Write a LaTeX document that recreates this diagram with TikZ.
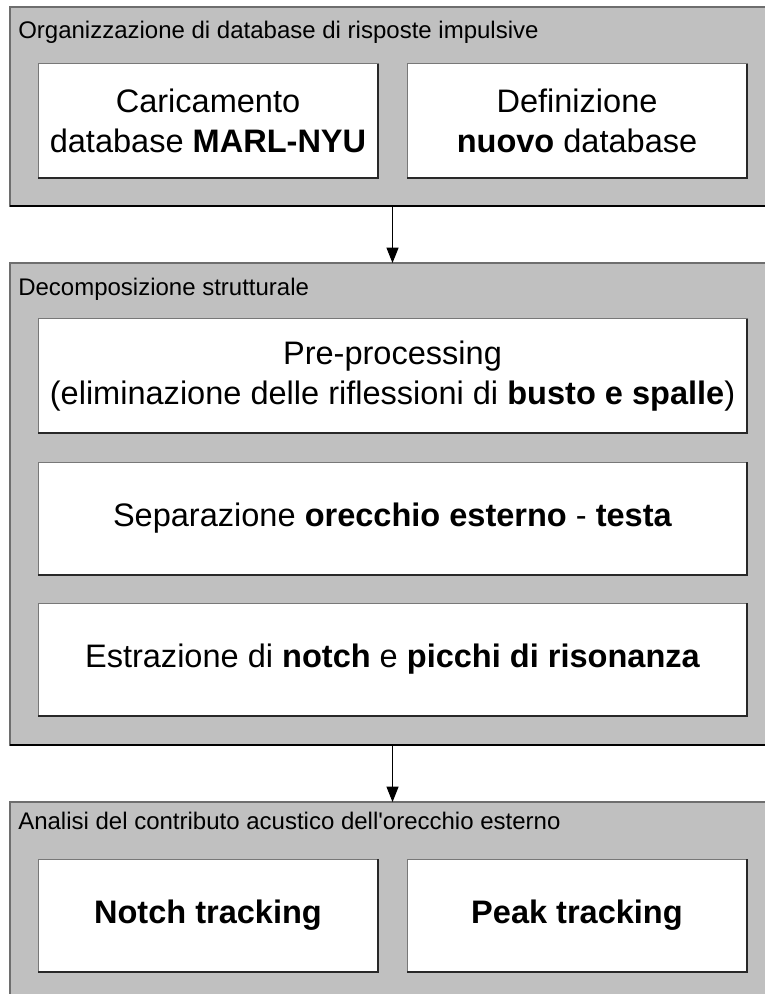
\documentclass[tikz,border=0pt]{standalone}
\usepackage{fontspec}
\setmainfont{Liberation Sans}[Ligatures=TeXOff]
\usetikzlibrary{arrows.meta}
\definecolor{panelgray}{RGB}{192,192,192}
\definecolor{paneledge}{RGB}{110,110,110}
\definecolor{boxedge}{RGB}{120,120,120}
\definecolor{shadeedge}{RGB}{40,40,40}

\begin{document}
\begin{tikzpicture}[x=0.75pt,y=-0.75pt,
  panel/.style={draw=paneledge, fill=panelgray, line width=1.1pt, anchor=north west,
    inner sep=0pt, outer sep=0pt, minimum width={770*0.75pt}},
  stepbox/.style={draw=boxedge, fill=white, line width=0.75pt, inner sep=0pt, outer sep=0pt,
    align=center, font=\fontsize{24.4}{30}\selectfont},
  paneltitle/.style={anchor=base west, inner sep=0pt, font=\fontsize{18}{21}\selectfont},
  panelshade/.style={draw=black, line width=1.1pt},
  boxshade/.style={draw=shadeedge, line width=0.9pt},
  flow/.style={-{Triangle[width=9pt,length=11.5pt]}, line width=0.75pt, black}]

\useasboundingbox (0,0) rectangle (764,994);

% three panels (they run past the right and bottom edges)
\node[panel, minimum height={199*0.75pt}] (g1) at (10,7) {};
\node[panel, minimum height={482*0.75pt}] (g2) at (10,263) {};
\node[panel, minimum height={220*0.75pt}] (g3) at (10,802) {};

% panel titles
\node[paneltitle] (t1) at (18,39) {Organizzazione di database di risposte impulsive};
\node[paneltitle] (t2) at (18,296) {Decomposizione strutturale};
\node[paneltitle] (t3) at (18,829) {Analisi del contributo acustico dell'orecchio esterno};

% first panel
\node[stepbox, minimum width={340*0.75pt}, minimum height={114*0.75pt}] (a) at (208,121)
  {Caricamento\\database \textbf{MARL-NYU}};
\node[stepbox, minimum width={340*0.75pt}, minimum height={114*0.75pt}] (b) at (577,121)
  {Definizione\\\textbf{nuovo} database};

% second panel
\node[stepbox, minimum width={709*0.75pt}, minimum height={114*0.75pt}] (p1) at (392.5,376)
  {Pre-processing\\(eliminazione delle riflessioni di \textbf{busto e spalle})};
\node[stepbox, minimum width={709*0.75pt}, minimum height={113*0.75pt}] (p2) at (392.5,518.5)
  {Separazione \textbf{orecchio esterno} - \textbf{testa}};
\node[stepbox, minimum width={709*0.75pt}, minimum height={113*0.75pt}] (p3) at (392.5,659.5)
  {Estrazione di \textbf{notch} e \textbf{picchi di risonanza}};

% third panel
\node[stepbox, minimum width={340*0.75pt}, minimum height={113*0.75pt}] (c) at (208,915.5)
  {\textbf{Notch tracking}};
\node[stepbox, minimum width={340*0.75pt}, minimum height={113*0.75pt}] (d) at (577,915.5)
  {\textbf{Peak tracking}};

% darker lower and right edges
\foreach \n in {g1,g2} \draw[panelshade] (\n.south west) -- (\n.south east);
\foreach \n in {a,b,p1,p2,p3,c,d} \draw[boxshade] (\n.north east) -- (\n.south east) -- (\n.south west);

% flow between panels
\coordinate (ax) at (392.5,0);
\draw[flow] (g1.south -| ax) -- (g2.north -| ax);
\draw[flow] (g2.south -| ax) -- (g3.north -| ax);
\end{tikzpicture}
\end{document}
